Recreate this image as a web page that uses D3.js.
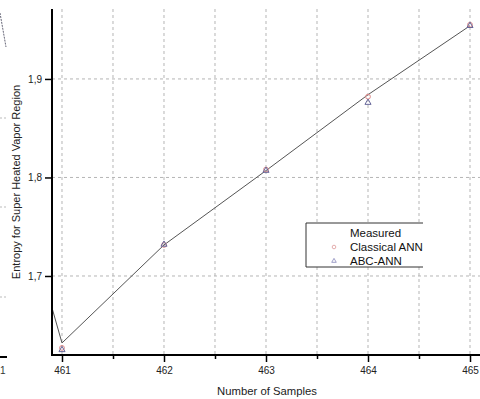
<!DOCTYPE html>
<html><head><meta charset="utf-8">
<script src="https://cdn.jsdelivr.net/npm/d3@7/dist/d3.min.js"></script>
<style>body{margin:0;background:#fff}svg{display:block}</style>
</head><body><svg id="c" width="480" height="399"></svg>
<script>
const samples = [460, 461, 462, 463, 464, 465];
const measured = [1.996, 1.632, 1.7315, 1.807, 1.884, 1.954];
const classicalANN = [null, 1.627, 1.7315, 1.808, 1.882, 1.955];
const abcANN = [null, 1.625, 1.732, 1.807, 1.876, 1.954];
const xTicks = [461, 462, 463, 464, 465];
const xMinor = [461.5, 462.5, 463.5, 464.5];
const yTicks = [1.7, 1.8, 1.9];
const legendLabels = ["Measured", "Classical ANN", "ABC-ANN"];

const svg = d3.select("#c");
const font = "Liberation Sans, Arial, sans-serif";
const x = d3.scaleLinear().domain([460.902, 465.098]).range([52, 480]);
const y = d3.scaleLinear().domain([1.6198, 1.971]).range([355, 9]);

// fragment of neighbouring panel at left edge
svg.append("line").attr("x1", 0).attr("x2", 7).attr("y1", 357).attr("y2", 357).attr("stroke", "#000").attr("stroke-width", 2);
[118, 207, 297].forEach(v => svg.append("line").attr("x1", 0).attr("x2", 8).attr("y1", v).attr("y2", v).attr("stroke", "#bbb").attr("stroke-dasharray", "2,2"));
svg.append("text").attr("x", 0).attr("y", 374).attr("font-family", font).attr("font-size", 10).attr("fill", "#333").text("1");
svg.append("path").attr("d", "M0,13 L6,47").attr("stroke", "#667").attr("stroke-dasharray", "2,1").attr("fill", "none");

// gridlines
const grid = svg.append("g");
xTicks.concat(xMinor).forEach(v => grid.append("line")
  .attr("x1", x(v)).attr("x2", x(v)).attr("y1", 9).attr("y2", 355)
  .attr("stroke", "#b5b5b5").attr("stroke-width", 1).attr("stroke-dasharray", "3,3"));
yTicks.forEach(v => grid.append("line")
  .attr("x1", 52).attr("x2", 480).attr("y1", y(v)).attr("y2", y(v))
  .attr("stroke", "#b5b5b5").attr("stroke-width", 1).attr("stroke-dasharray", "3,3"));

// clip
svg.append("clipPath").attr("id", "pc").append("rect").attr("x", 52).attr("y", 0).attr("width", 428).attr("height", 355);

// measured line
const line = d3.line().x((d, i) => x(samples[i])).y(d => y(d));
svg.append("path").datum(measured).attr("clip-path", "url(#pc)")
  .attr("d", line).attr("fill", "none").attr("stroke", "#555").attr("stroke-width", 1);

// markers
const mk = svg.append("g");
classicalANN.forEach((v, i) => { if (v == null) return;
  mk.append("circle").attr("cx", x(samples[i])).attr("cy", y(v)).attr("r", 2.4)
    .attr("fill", "none").attr("stroke", "#d88").attr("stroke-width", 1); });
const tri = d3.symbol().type(d3.symbolTriangle).size(16);
abcANN.forEach((v, i) => { if (v == null) return;
  mk.append("path").attr("d", tri).attr("transform", `translate(${x(samples[i])},${y(v)})`)
    .attr("fill", "none").attr("stroke", "#669").attr("stroke-width", 1); });

// axes
const xAxis = svg.append("g").attr("transform", "translate(0,355)")
  .call(d3.axisBottom(x).tickValues(xTicks).tickSize(7).tickPadding(5).tickFormat(d3.format("d")));
xAxis.select(".domain").remove();
xAxis.selectAll("line").attr("stroke", "#000").attr("stroke-width", 1.5);
xAxis.selectAll("text").attr("font-family", font).attr("font-size", 10).attr("fill", "#222");
const xm = svg.append("g").attr("transform", "translate(0,355)")
  .call(d3.axisBottom(x).tickValues(xMinor).tickSize(4).tickFormat(""));
xm.select(".domain").remove();
xm.selectAll("line").attr("stroke", "#000").attr("stroke-width", 1.5);
svg.append("line").attr("x1", 51).attr("x2", 480).attr("y1", 355).attr("y2", 355).attr("stroke", "#000").attr("stroke-width", 2);

const yAxis = svg.append("g").attr("transform", "translate(52,0)")
  .call(d3.axisLeft(y).tickValues(yTicks).tickSize(7).tickPadding(3).tickFormat(d => d3.format(".1f")(d).replace(".", ",")));
yAxis.select(".domain").remove();
yAxis.selectAll("line").attr("stroke", "#000").attr("stroke-width", 1.5);
yAxis.selectAll("text").attr("font-family", font).attr("font-size", 10).attr("fill", "#222");
svg.append("line").attr("x1", 52).attr("x2", 52).attr("y1", 9).attr("y2", 356).attr("stroke", "#000").attr("stroke-width", 2);

// axis titles
svg.append("text").attr("x", 267).attr("y", 395).attr("text-anchor", "middle")
  .attr("font-family", font).attr("font-size", 11.3).attr("fill", "#222").text("Number of Samples");
svg.append("text").attr("transform", "translate(20,182) rotate(-90)").attr("text-anchor", "middle")
  .attr("font-family", font).attr("font-size", 11).attr("fill", "#222").text("Entropy for Super Heated Vapor Region");

// legend
const lg = svg.append("g");
lg.append("path").attr("d", "M423,223 L306,223 L306,267 L423,267").attr("fill", "#fff").attr("stroke", "#333").attr("stroke-width", 1);
legendLabels.forEach((t, i) => lg.append("text").attr("x", 350).attr("y", 237 + i * 14)
  .attr("font-family", font).attr("font-size", 11.5).attr("fill", "#111").text(t));
lg.append("circle").attr("cx", 334).attr("cy", 247).attr("r", 1.8).attr("fill", "none").attr("stroke", "#d99").attr("stroke-width", 0.8);
lg.append("path").attr("d", d3.symbol().type(d3.symbolTriangle).size(9)).attr("transform", "translate(334,261)")
  .attr("fill", "none").attr("stroke", "#88b").attr("stroke-width", 0.8);
</script></body></html>
